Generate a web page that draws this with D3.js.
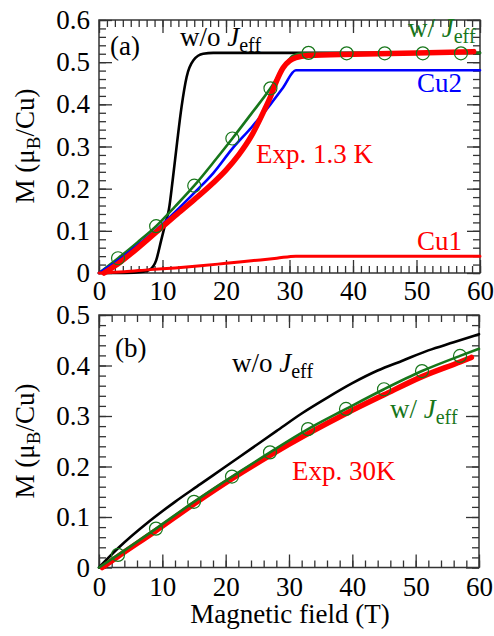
<!DOCTYPE html>
<html>
<head>
<meta charset="utf-8">
<script src="https://cdn.jsdelivr.net/npm/d3@7.9.0/dist/d3.min.js"></script>
<style>
  body { margin: 0; background: #fff; }
</style>
</head>
<body>
<svg id="chart" width="494" height="636" font-family="Liberation Serif, Times New Roman, Times, DejaVu Serif, serif"></svg>
<script>
// ---- panel (a) : 1.3 K ----
const aNoJ = [[0,0],[4,0],[7,0.003],[8,0.008],[9,0.03],[9.8,0.078],[10.5,0.12],[11,0.15],[11.6,0.22],[12.3,0.31],[13,0.394],[13.8,0.465],[14.9,0.505],[16.4,0.52],[18,0.522],[60,0.522]];
const aWithJ = [[0,0],[3,0.035],[6,0.072],[9,0.111],[12,0.158],[15,0.207],[18,0.262],[21,0.319],[24,0.378],[27,0.438],[29,0.485],[30.5,0.515],[32,0.521],[60,0.522]];
const aCircles = [[3,0.035],[9,0.111],[15,0.207],[21,0.319],[27,0.438],[33,0.522],[39,0.521],[45,0.521],[51,0.521],[57,0.521]];
const aCu2 = [[0,0],[3,0.03],[6,0.065],[9,0.102],[12,0.145],[15,0.19],[18,0.237],[21,0.295],[24,0.345],[27,0.4],[29,0.44],[31,0.481],[60,0.481]];
const aCu1 = [[0,0],[4,0.003],[8,0.008],[12,0.012],[16,0.017],[20,0.023],[24,0.029],[28,0.035],[31,0.04],[60,0.04]];
const aExp = [[0.8,0],[3,0.022],[6,0.058],[9,0.097],[12,0.136],[15,0.174],[18,0.214],[20,0.244],[22,0.28],[24,0.325],[26,0.385],[27,0.418],[28,0.457],[29,0.487],[30,0.503],[31,0.511],[33,0.516],[40,0.519],[50,0.522],[59,0.525]];

// ---- panel (b) : 30 K ----
const bNoJ = [[0,0],[3,0.038],[8,0.092],[12,0.13],[16,0.165],[20,0.2],[24,0.235],[28,0.27],[32,0.305],[36,0.336],[40,0.365],[44,0.39],[48,0.41],[52,0.43],[56,0.446],[60,0.462]];
const bWithJ = [[0,0],[3,0.025],[9,0.077],[15,0.13],[21,0.18],[27,0.228],[33,0.274],[39,0.314],[45,0.353],[51,0.389],[57,0.419],[60,0.433]];
const bCircles = [[3,0.025],[9,0.077],[15,0.13],[21,0.18],[27,0.228],[33,0.274],[39,0.314],[45,0.353],[51,0.389],[57,0.419]];
const bExp = [[0.5,0],[3,0.022],[9,0.073],[15,0.126],[21,0.176],[27,0.222],[33,0.265],[39,0.305],[45,0.342],[51,0.378],[57,0.407],[58.8,0.416]];

const xTicks = [0, 10, 20, 30, 40, 50, 60];
const aYTicks = [0, 0.1, 0.2, 0.3, 0.4, 0.5, 0.6];
const bYTicks = [0, 0.1, 0.2, 0.3, 0.4, 0.5];

const RED = '#ff0000', GREEN = '#17761a', BLUE = '#0000ff';
const FS = 27;
const FONT = 'Liberation Serif, Times New Roman, Times, DejaVu Serif, serif';

const svg = d3.select('#chart');

function yFmt(d) { return d === 0 ? '0' : d3.format('.1f')(d); }

// frame with inward ticks on all four sides
function drawFrame(g, x, y, yTicks, xMinorStep, yMinorStep, padBottom) {
  const [x0, x1] = x.range();
  const [y0, y1] = y.range();
  const xMinor = d3.range(0, 60 + 1e-9, xMinorStep);
  const yMinor = d3.range(0, y.domain()[1] + 1e-9, yMinorStep);

  const mk = (axis, tr) => g.append('g').attr('transform', tr).call(axis)
    .call(s => s.select('.domain').remove())
    .call(s => s.selectAll('line').attr('stroke', '#333').attr('stroke-width', 1.3));

  // minor ticks
  mk(d3.axisBottom(x).tickValues(xMinor).tickSize(-7).tickFormat(''), `translate(0,${y0})`);
  mk(d3.axisTop(x).tickValues(xMinor).tickSize(-7).tickFormat(''), `translate(0,${y1})`);
  mk(d3.axisLeft(y).tickValues(yMinor).tickSize(-7).tickFormat(''), `translate(${x0},0)`);
  mk(d3.axisRight(y).tickValues(yMinor).tickSize(-7).tickFormat(''), `translate(${x1},0)`);

  // major ticks + labels
  const bx = mk(d3.axisBottom(x).tickValues(xTicks).tickSize(-13).tickPadding(padBottom), `translate(0,${y0})`);
  mk(d3.axisTop(x).tickValues(xTicks).tickSize(-13).tickFormat(''), `translate(0,${y1})`);
  const ly = mk(d3.axisLeft(y).tickValues(yTicks).tickSize(-13).tickPadding(9).tickFormat(yFmt), `translate(${x0},0)`);
  mk(d3.axisRight(y).tickValues(yTicks).tickSize(-13).tickFormat(''), `translate(${x1},0)`);

  [bx, ly].forEach(s => s.attr('font-family', FONT).attr('font-size', FS)
    .selectAll('text').attr('fill', '#000'));

  g.append('rect')
    .attr('x', x0).attr('y', y1)
    .attr('width', x1 - x0).attr('height', y0 - y1)
    .attr('fill', 'none').attr('stroke', '#333').attr('stroke-width', 1.5);
}

function curve(g, x, y, data, color, width) {
  const line = d3.line().x(d => x(d[0])).y(d => y(d[1])).curve(d3.curveMonotoneX);
  g.append('path').datum(data)
    .attr('d', line)
    .attr('fill', 'none')
    .attr('stroke', color)
    .attr('stroke-width', width)
    .attr('stroke-linejoin', 'round')
    .attr('stroke-linecap', 'round');
}

function circles(g, x, y, data) {
  g.selectAll(null).data(data).enter().append('circle')
    .attr('cx', d => x(d[0])).attr('cy', d => y(d[1]))
    .attr('r', 6.5)
    .attr('fill', 'none')
    .attr('stroke', GREEN)
    .attr('stroke-width', 1.2);
}

function txt(g) {
  return g.append('text').attr('font-family', FONT).attr('font-size', FS);
}

// label with italic J and subscript "eff"
function jLabel(g, px, py, prefix, color) {
  const t = txt(g).attr('x', px).attr('y', py).attr('fill', color);
  t.append('tspan').text(prefix);
  t.append('tspan').attr('font-style', 'italic').text('J');
  t.append('tspan').attr('dy', 6).attr('font-size', 20).text('eff');
}

function label(g, px, py, str, color) {
  txt(g).attr('x', px).attr('y', py).attr('fill', color).text(str);
}

function yTitle(g, cx, cy) {
  const t = txt(g)
    .attr('transform', `translate(${cx},${cy}) rotate(-90)`)
    .attr('text-anchor', 'middle')
    .attr('fill', '#000');
  t.append('tspan').text('M (μ');
  t.append('tspan').attr('dy', 6).attr('font-size', 19).text('B');
  t.append('tspan').attr('dy', -6).text('/Cu)');
}

// ---------- panel (a) ----------
const xa = d3.scaleLinear().domain([0, 60]).range([99, 480]);
const ya = d3.scaleLinear().domain([0, 0.6]).range([273, 20]);
const ga = svg.append('g');

drawFrame(ga, xa, ya, aYTicks, 1.25, 0.02, 8);
curve(ga, xa, ya, aNoJ, '#000', 2.6);
curve(ga, xa, ya, aWithJ, GREEN, 2.6);
curve(ga, xa, ya, aCu2, BLUE, 2.6);
curve(ga, xa, ya, aCu1, RED, 3);
curve(ga, xa, ya, aExp, RED, 5.5);
circles(ga, xa, ya, aCircles);

label(ga, 110, 55, '(a)', '#000');
jLabel(ga, 180, 46, 'w/o ', '#000');
jLabel(ga, 408, 37, 'w/ ', GREEN);
label(ga, 417, 92, 'Cu2', BLUE);
label(ga, 256, 163, 'Exp. 1.3 K', RED);
label(ga, 417, 250, 'Cu1', RED);
yTitle(ga, 34, 146);

// ---------- panel (b) ----------
const xb = d3.scaleLinear().domain([0, 60]).range([99, 479]);
const yb = d3.scaleLinear().domain([0, 0.5]).range([567.5, 315]);
const gb = svg.append('g');

drawFrame(gb, xb, yb, bYTicks, 2, 0.02, 9);
curve(gb, xb, yb, bNoJ, '#000', 2.6);
curve(gb, xb, yb, bExp, RED, 5.5);
curve(gb, xb, yb, bWithJ, GREEN, 2.6);
circles(gb, xb, yb, bCircles);

label(gb, 115, 357, '(b)', '#000');
jLabel(gb, 232, 372, 'w/o ', '#000');
jLabel(gb, 390, 418, 'w/ ', GREEN);
label(gb, 292, 480, 'Exp. 30K', RED);
yTitle(gb, 34, 441);

txt(svg)
  .attr('x', 290).attr('y', 623)
  .attr('text-anchor', 'middle')
  .attr('fill', '#000')
  .text('Magnetic field (T)');
</script>
</body>
</html>
